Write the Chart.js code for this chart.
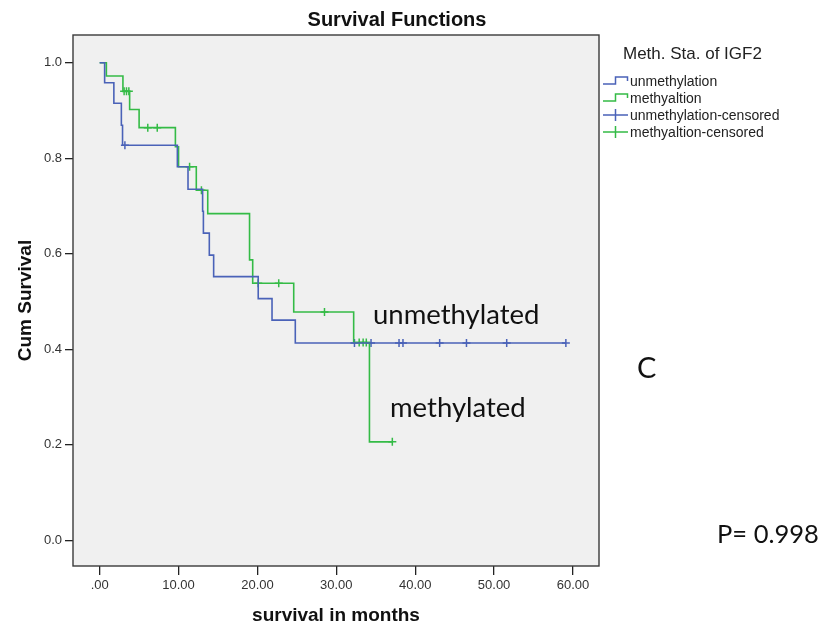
<!DOCTYPE html>
<html>
<head>
<meta charset="utf-8">
<script src="https://cdn.jsdelivr.net/npm/chart.js@4"></script>
<style>
  html, body { margin: 0; padding: 0; background: #fff; }
  #wrap { width: 827px; height: 625px; }
</style>
</head>
<body>
<div id="wrap"><canvas id="km" width="827" height="625"></canvas></div>
<script>
// Kaplan-Meier steps (months, cum survival after the drop)
const unmethTimes = [0, 0.63, 1.8, 2.75, 2.9, 9.85, 11.2, 13.05, 13.15, 13.9, 14.45, 20.1, 21.85, 24.8, 59.1];
const unmethSurv  = [1.0, 0.958, 0.915, 0.869, 0.827, 0.782, 0.735, 0.689, 0.643, 0.597, 0.552, 0.506, 0.461, 0.413, 0.413];
const methTimes = [0, 0.85, 2.95, 3.8, 5.0, 9.6, 10.0, 12.25, 13.7, 19.0, 19.4, 24.6, 32.2, 34.2, 37.1];
const methSurv  = [1.0, 0.972, 0.940, 0.902, 0.864, 0.824, 0.782, 0.733, 0.684, 0.587, 0.538, 0.478, 0.414, 0.206, 0.206];

// censored cases (months)
const unmethCensored = [3.2, 32.3, 34.4, 37.95, 38.45, 43.1, 46.5, 51.6, 59.1];
const methCensored = [3.1, 3.4, 3.7, 6.1, 7.3, 11.4, 12.9, 20.1, 22.7, 28.5, 32.9, 33.4, 33.8, 37.1];

const xTicks = [0, 10, 20, 30, 40, 50, 60];
const yTicks = [0, 0.2, 0.4, 0.6, 0.8, 1.0];

const legendTitle = "Meth. Sta. of IGF2";
const legendLabels = ["unmethylation", "methyaltion", "unmethylation-censored", "methyaltion-censored"];

const blue = "#4a62b8";
const green = "#34bb46";

function survAt(times, surv, t) {
  let s = surv[0];
  for (let i = 0; i < times.length; i++) if (times[i] <= t) s = surv[i];
  return s;
}

const pts = (xs, ys) => xs.map((x, i) => ({ x: x, y: ys[i] }));
const censPts = (cs, times, surv) => cs.map(t => ({ x: t, y: survAt(times, surv, t) }));

const frame = {
  id: "frame",
  beforeDatasetsDraw(chart) {
    const { ctx, chartArea: a } = chart;
    ctx.save();
    ctx.fillStyle = "#f0f0f0";
    ctx.fillRect(a.left, a.top, a.right - a.left, a.bottom - a.top);
    ctx.restore();
  },
  afterDraw(chart) {
    const { ctx, chartArea: a } = chart;
    ctx.save();
    ctx.strokeStyle = "#3a3a3a";
    ctx.lineWidth = 1.4;
    ctx.strokeRect(a.left, a.top, a.right - a.left, a.bottom - a.top);

    // titles
    ctx.fillStyle = "#111";
    ctx.font = "bold 20px 'Liberation Sans', Arial, sans-serif";
    ctx.textAlign = "center";
    ctx.textBaseline = "alphabetic";
    ctx.fillText("Survival Functions", 397, 26);

    ctx.font = "bold 19px 'Liberation Sans', Arial, sans-serif";
    ctx.fillText("survival in months", (a.left + a.right) / 2, 621);
    ctx.save();
    ctx.translate(31, (a.top + a.bottom) / 2);
    ctx.rotate(-Math.PI / 2);
    ctx.fillText("Cum Survival", 0, 0);
    ctx.restore();

    // legend
    ctx.textAlign = "left";
    ctx.fillStyle = "#222";
    ctx.font = "17px 'Liberation Sans', Arial, sans-serif";
    ctx.fillText(legendTitle, 623, 59);
    ctx.font = "14px 'Liberation Sans', Arial, sans-serif";
    ctx.textBaseline = "middle";
    const rows = [81, 98, 115, 132];
    const cols = [blue, green, blue, green];
    rows.forEach((y, i) => {
      ctx.strokeStyle = cols[i];
      ctx.lineWidth = 1.5;
      ctx.beginPath();
      if (i < 2) {
        ctx.moveTo(603, y + 3);
        ctx.lineTo(615.5, y + 3);
        ctx.lineTo(615.5, y - 4);
        ctx.lineTo(627.5, y - 4);
        ctx.lineTo(627.5, y);
      } else {
        ctx.moveTo(603, y);
        ctx.lineTo(628, y);
        ctx.moveTo(615.5, y - 6);
        ctx.lineTo(615.5, y + 6);
      }
      ctx.stroke();
      ctx.fillText(legendLabels[i], 630, y + 1);
    });

    // annotations
    ctx.textBaseline = "alphabetic";
    ctx.fillStyle = "#111";
    ctx.font = "27.5px Lato, 'Open Sans', sans-serif";
    ctx.fillText("unmethylated", 373, 324);
    ctx.fillText("methylated", 390, 417);
    ctx.font = "29px Lato, 'Open Sans', sans-serif";
    ctx.fillText("C", 637, 378);
    ctx.font = "25.5px Lato, 'Open Sans', sans-serif";
    ctx.fillText("P= 0.998", 717, 543);
    ctx.restore();
  }
};

new Chart(document.getElementById("km"), {
  type: "line",
  data: {
    datasets: [
      { label: legendLabels[0], data: pts(unmethTimes, unmethSurv), stepped: "before",
        borderColor: blue, borderWidth: 1.6, pointRadius: 0, fill: false },
      { label: legendLabels[1], data: pts(methTimes, methSurv), stepped: "before",
        borderColor: green, borderWidth: 1.6, pointRadius: 0, fill: false },
      { label: legendLabels[2], type: "scatter", data: censPts(unmethCensored, unmethTimes, unmethSurv),
        showLine: false, pointStyle: "cross", pointRadius: 4, borderColor: blue, borderWidth: 1.5 },
      { label: legendLabels[3], type: "scatter", data: censPts(methCensored, methTimes, methSurv),
        showLine: false, pointStyle: "cross", pointRadius: 4, borderColor: green, borderWidth: 1.5 }
    ]
  },
  options: {
    responsive: false,
    animation: false,
    layout: { padding: { top: 35, right: 228, bottom: 0, left: 0 } },
    plugins: { legend: { display: false }, title: { display: false }, tooltip: { enabled: false } },
    scales: {
      x: {
        type: "linear", min: -3.38, max: 63.3,
        afterBuildTicks: s => { s.ticks = xTicks.map(v => ({ value: v })); },
        afterFit: s => { s.height = 59; },
        grid: { drawOnChartArea: false, drawTicks: true, tickLength: 9, color: "#222", lineWidth: 1.3 },
        border: { display: false },
        ticks: { padding: 3, color: "#333", font: { family: "'Liberation Sans', Arial", size: 13 },
                 callback: v => v === 0 ? ".00" : v.toFixed(2), maxRotation: 0 }
      },
      y: {
        type: "linear", min: -0.054, max: 1.058,
        afterBuildTicks: s => { s.ticks = yTicks.map(v => ({ value: v })); },
        afterFit: s => { s.width = 73; },
        grid: { drawOnChartArea: false, drawTicks: true, tickLength: 8, color: "#222", lineWidth: 1.3 },
        border: { display: false },
        ticks: { padding: 3, color: "#333", font: { family: "'Liberation Sans', Arial", size: 13 },
                 callback: v => v.toFixed(1) }
      }
    }
  },
  plugins: [frame]
});
</script>
</body>
</html>
